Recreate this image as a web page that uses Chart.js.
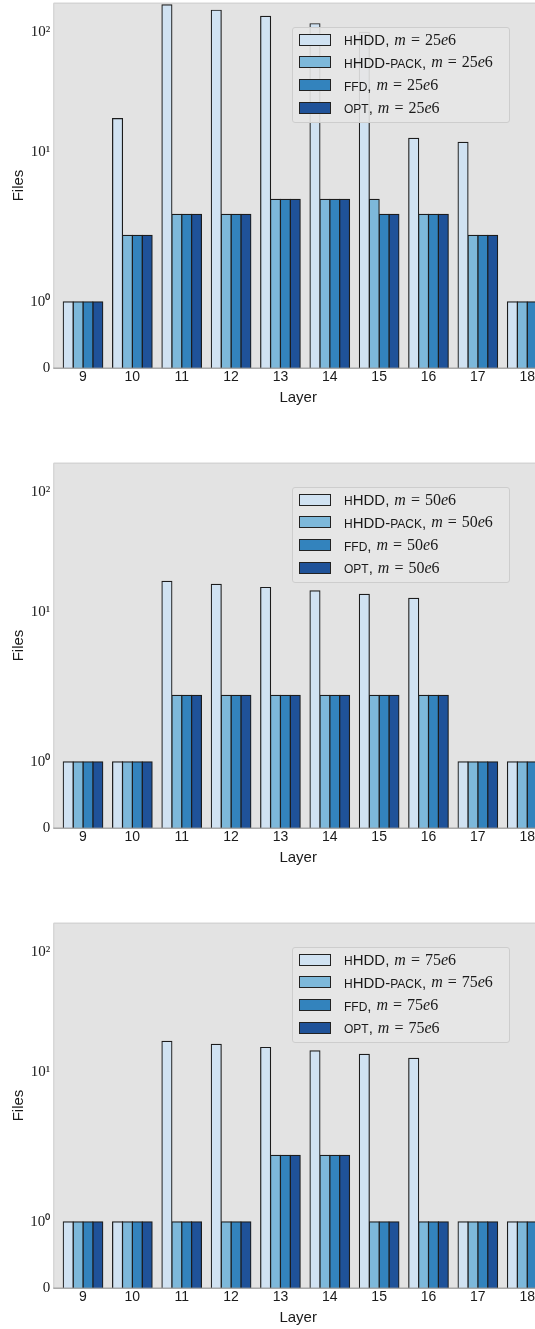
<!DOCTYPE html>
<html>
<head>
<meta charset="utf-8">
<script src="https://cdn.jsdelivr.net/npm/chart.js@4.4.1/dist/chart.umd.min.js"></script>
<style>
  body{margin:0;background:#fff;overflow:hidden;}
  #wrap{position:relative;width:535px;height:1329px;overflow:hidden;}
  .panel{position:absolute;left:0;width:543px;height:460px;}
  .panel canvas{position:absolute;left:0;top:0;}
  .legend{position:absolute;left:292px;top:27px;width:216px;height:94px;
    background:rgba(229,229,229,0.9);border:1px solid #cdcdcd;border-radius:3px;}
  .row{position:absolute;left:0;height:22px;display:flex;align-items:center;white-space:nowrap;}
  .sw{width:30px;height:10px;border:1px solid #222;margin-left:6px;margin-right:13px;}
  .nm{font:15px "Liberation Sans",Arial,sans-serif;color:#1a1a1a;}
  .sc{font-size:0.8em;text-transform:uppercase;}
  .mt{font:16px "Liberation Serif","Times New Roman",serif;color:#1a1a1a;margin-left:5px;}
  .mt i{font-style:italic;}
  .eq{margin:0 5px;}
</style>
</head>
<body>
<div id="wrap">
  <div class="panel" style="top:0"><canvas id="c0" width="543" height="460"></canvas><div class="legend" id="l0"></div></div>
  <div class="panel" style="top:460px"><canvas id="c1" width="543" height="460"></canvas><div class="legend" id="l1"></div></div>
  <div class="panel" style="top:920px"><canvas id="c2" width="543" height="460"></canvas><div class="legend" id="l2"></div></div>
</div>
<script>
const layers = [9, 10, 11, 12, 13, 14, 15, 16, 17, 18];
const seriesNames = ['hHDD', 'hHDD-pack', 'ffd', 'opt'];
const seriesColors = ['#d0e2f2', '#7db8da', '#3383bd', '#1f5299'];
const memLabels = ['25e6', '50e6', '75e6'];

// m = 25e6
const hhdd25 = [1, 19, 170, 153, 136, 118, 100, 13, 12, 1];
const pack25 = [1, 2, 3, 3, 4, 4, 4, 3, 2, 1];
const ffd25  = [1, 2, 3, 3, 4, 4, 3, 3, 2, 1];
const opt25  = [1, 2, 3, 3, 4, 4, 3, 3, 2, 1];
// m = 50e6
const hhdd50 = [1, 1, 18, 17, 16, 15, 14, 13, 1, 1];
const pack50 = [1, 1, 2, 2, 2, 2, 2, 2, 1, 1];
const ffd50  = [1, 1, 2, 2, 2, 2, 2, 2, 1, 1];
const opt50  = [1, 1, 2, 2, 2, 2, 2, 2, 1, 1];
// m = 75e6
const hhdd75 = [1, 1, 18, 17, 16, 15, 14, 13, 1, 1];
const pack75 = [1, 1, 1, 1, 2, 2, 1, 1, 1, 1];
const ffd75  = [1, 1, 1, 1, 2, 2, 1, 1, 1, 1];
const opt75  = [1, 1, 1, 1, 2, 2, 1, 1, 1, 1];

const yTickValues = [0, 1, 10, 100];
const yTickLabels = ['0', '10\u2070', '10\u00B9', '10\u00B2'];

const panels = [
  [hhdd25, pack25, ffd25, opt25],
  [hhdd50, pack50, ffd50, opt50],
  [hhdd75, pack75, ffd75, opt75]
];

// symlog like matplotlib: linthresh 2, linscale 1, base 10
const LINTHRESH = 2, LINSCALE = 1 / (1 - 1 / 10);
function symT(v){
  const a = Math.abs(v);
  return a <= LINTHRESH ? v * LINSCALE : Math.sign(v) * LINTHRESH * (LINSCALE + Math.log10(a / LINTHRESH));
}
function symInv(t){
  const a = Math.abs(t);
  return a <= LINTHRESH * LINSCALE ? t / LINSCALE : Math.sign(t) * LINTHRESH * Math.pow(10, a / LINTHRESH - LINSCALE);
}

class SymlogScale extends Chart.LinearScale {
  buildTicks(){
    return yTickValues.filter(v => v >= this.min && v <= this.max).map(v => ({value: v}));
  }
  configure(){
    super.configure();
    this._tMin = symT(this.min);
    this._tMax = symT(this.max);
  }
  getPixelForValue(v){
    if (v === null || v === undefined) return NaN;
    return this.getPixelForDecimal((symT(v) - this._tMin) / (this._tMax - this._tMin));
  }
  getValueForPixel(p){
    return symInv(this._tMin + this.getDecimalForPixel(p) * (this._tMax - this._tMin));
  }
}
SymlogScale.id = 'symlog';
SymlogScale.defaults = {};
Chart.register(SymlogScale);

const framePlugin = {
  id: 'frame',
  beforeDraw(chart){
    const {ctx, chartArea: a} = chart;
    ctx.save();
    ctx.fillStyle = '#e3e3e3';
    ctx.fillRect(a.left, a.top, a.right - a.left, a.bottom - a.top);
    ctx.strokeStyle = '#cfcfcf';
    ctx.lineWidth = 1;
    ctx.beginPath();
    ctx.moveTo(a.left + 0.5, a.bottom);
    ctx.lineTo(a.left + 0.5, a.top + 0.5);
    ctx.lineTo(a.right, a.top + 0.5);
    ctx.stroke();
    ctx.restore();
  },
  afterDatasetsDraw(chart){
    const {ctx, chartArea: a} = chart;
    ctx.save();
    ctx.strokeStyle = 'rgba(150,150,150,0.8)';
    ctx.lineWidth = 1.5;
    ctx.beginPath();
    ctx.moveTo(a.left, a.bottom);
    ctx.lineTo(a.right, a.bottom);
    ctx.stroke();
    ctx.restore();
  }
};

function nameHTML(name){
  // lower-case runs are drawn as small capitals
  return name.replace(/[a-z]+/g, m => '<span class="sc">' + m + '</span>');
}

function makePanel(idx){
  const series = panels[idx];
  new Chart(document.getElementById('c' + idx), {
    type: 'bar',
    data: {
      labels: layers,
      datasets: series.map((vals, i) => ({
        label: seriesNames[i],
        data: vals,
        backgroundColor: seriesColors[i],
        borderColor: '#1c1c1c',
        borderWidth: 1.2,
        inflateAmount: 0.6,
        categoryPercentage: 0.8,
        barPercentage: 1.0
      }))
    },
    options: {
      responsive: false,
      animation: false,
      events: [],
      layout: {padding: {top: 2.7, left: 0, right: 0, bottom: 53.6}},
      plugins: {legend: {display: false}, tooltip: {enabled: false}},
      scales: {
        x: {
          type: 'linear',
          offset: false,
          min: 8.398,
          max: 18.32,
          grid: {display: false, drawTicks: false},
          border: {display: false},
          ticks: {
            stepSize: 1,
            includeBounds: false,
            padding: 0,
            color: '#1a1a1a',
            font: {family: '"Liberation Sans", Arial, sans-serif', size: 14},
            callback: v => String(v)
          },
          title: {
            display: true, text: 'Layer', color: '#1a1a1a', padding: 0,
            font: {family: '"Liberation Sans", Arial, sans-serif', size: 15}
          },
          afterFit: s => { s.height = 38.1; s.paddingLeft = 0; s.paddingRight = 0; }
        },
        y: {
          type: 'symlog',
          min: 0,
          max: 177,
          grid: {display: false, drawTicks: false},
          border: {display: false},
          ticks: {
            padding: 3,
            color: '#1a1a1a',
            font: {family: '"Liberation Serif", "Times New Roman", serif', size: 15},
            callback: v => yTickLabels[yTickValues.indexOf(v)]
          },
          title: {
            display: true, text: 'Files', color: '#1a1a1a', padding: {top: 10, bottom: 0},
            font: {family: '"Liberation Sans", Arial, sans-serif', size: 15}
          },
          afterFit: s => { s.width = 53.3; s.paddingTop = 0; s.paddingBottom = 0; }
        }
      }
    },
    plugins: [framePlugin]
  });

  const leg = document.getElementById('l' + idx);
  seriesNames.forEach((name, i) => {
    const row = document.createElement('div');
    row.className = 'row';
    row.style.top = (12.7 + i * 22.67 - 11 - 1).toFixed(1) + 'px';
    row.innerHTML = '<div class="sw" style="background:' + seriesColors[i] + '"></div>' +
      '<span class="nm">' + nameHTML(name) + ',</span>' +
      '<span class="mt"><i>m</i><span class="eq">=</span>' + memLabels[idx].replace('e', '<i>e</i>') + '</span>';
    leg.appendChild(row);
  });
}

[0, 1, 2].forEach(makePanel);
</script>
</body>
</html>
